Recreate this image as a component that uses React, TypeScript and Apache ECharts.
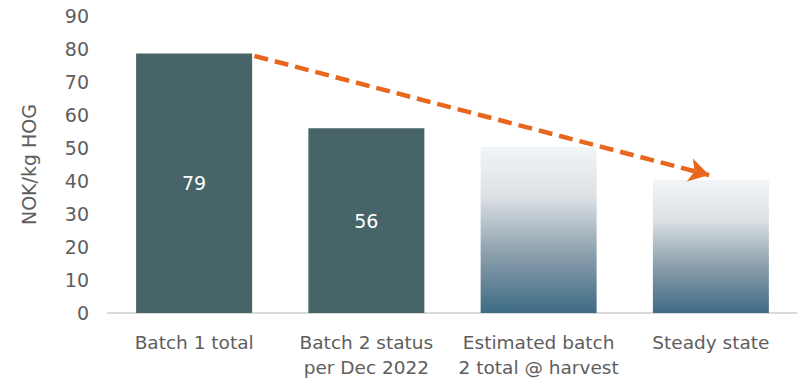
import React, { useEffect, useRef } from "react";
import * as echarts from "echarts";

const categories = ["Batch 1 total", "Batch 2 status\nper Dec 2022", "Estimated batch\n2 total @ harvest", "Steady state"];
const values = [78.6, 56, 50.3, 40.3];
const valueLabels = ["79", "56", "", ""];
const yTicks = [0, 90, 10];
const arrowStart = [0.35, 77.9];
const arrowEnd = [2.99, 41.8];

const FONT = "'DejaVu Sans', sans-serif";

export default function App() {
  const ref = useRef<HTMLDivElement>(null);
  useEffect(() => {
    const chart = echarts.init(ref.current!, null, { renderer: "svg" });
    const gradient = new echarts.graphic.LinearGradient(0, 0, 0, 1, [
      { offset: 0, color: "#F1F5F8" },
      { offset: 0.3, color: "#DCE1E5" },
      { offset: 0.65, color: "#8A9EAB" },
      { offset: 1, color: "#3E6B85" },
    ]);
    chart.setOption({
      animation: false,
      grid: { left: 108, right: 7, top: 16, bottom: 67, containLabel: false },
      xAxis: [
        {
          type: "category",
          data: categories,
          axisLine: { lineStyle: { color: "#D9D9D9", width: 2 } },
          axisTick: { show: false },
          axisLabel: { color: "#5E5E5E", fontSize: 18.5, fontFamily: FONT, margin: 17, lineHeight: 25, interval: 0 },
        },
        { type: "value", min: -0.5, max: 3.5, show: false },
      ],
      yAxis: {
        type: "value",
        min: yTicks[0],
        max: yTicks[1],
        interval: yTicks[2],
        splitLine: { show: false },
        axisLine: { show: false, onZero: false },
        axisTick: { show: false },
        axisLabel: { color: "#5E5E5E", fontSize: 19, fontFamily: FONT, margin: 19 },
        name: "NOK/kg HOG",
        nameLocation: "middle",
        nameGap: 70,
        nameTextStyle: { color: "#5E5E5E", fontSize: 19, fontFamily: FONT },
      },
      series: [
        {
          type: "bar",
          barWidth: 116,
          data: values.map((v, i) => ({
            value: v,
            itemStyle: { color: i < 2 ? "#476468" : gradient },
            label: {
              show: valueLabels[i] !== "",
              position: "inside",
              formatter: () => valueLabels[i],
              color: "#FFFFFF",
              fontSize: 19,
              fontFamily: FONT,
            },
          })),
        },
        {
          type: "line",
          xAxisIndex: 1,
          data: [],
          markLine: {
            silent: true,
            symbol: ["none", "arrow"],
            symbolSize: [18, 20],
            label: { show: false },
            lineStyle: { color: "#E8671F", width: 4.5, type: [14, 7] },
            data: [[{ coord: arrowStart }, { coord: arrowEnd }]],
          },
        },
      ],
    });
    return () => chart.dispose();
  }, []);
  return <div ref={ref} style={{ width: 804, height: 380, position: "absolute", left: 0, top: 0 }} />;
}
